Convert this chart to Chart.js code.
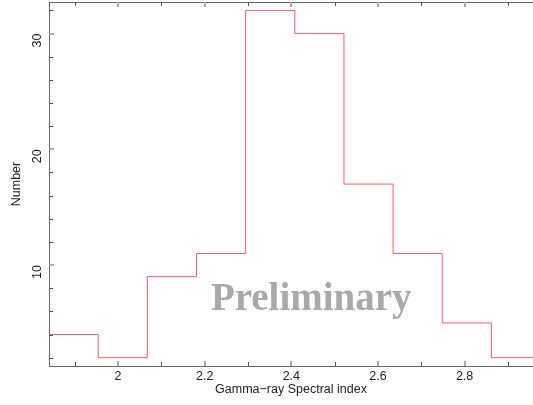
<!DOCTYPE html>
<html>
<head>
<meta charset="utf-8">
<script src="https://cdn.jsdelivr.net/npm/chart.js@4/dist/chart.umd.min.js"></script>
<style>
  html, body { margin: 0; padding: 0; background: #fff; }
  #wrap { width: 533px; height: 405px; position: relative; }
</style>
</head>
<body>
<div id="wrap"><canvas id="c"></canvas></div>
<script>
// Histogram bin edges (left edges of each bin, plus final right edge)
const binEdges = [1.8405, 1.954, 2.0675, 2.181, 2.2945, 2.408, 2.5215, 2.635, 2.7485, 2.862, 2.9755];
// Counts per bin
const counts = [4, 2, 9, 11, 32, 30, 17, 11, 5, 2];
// Tick values
const xMajorTicks = [2, 2.2, 2.4, 2.6, 2.8];
const xMinorTicks = [1.9, 2.1, 2.3, 2.5, 2.7, 2.9];
const yMajorTicks = [10, 20, 30];
const yMinorTicks = [2, 4, 6, 8, 12, 14, 16, 18, 22, 24, 26, 28, 32];
const xTitle = 'Gamma\u2212ray Spectral index';
const yTitle = 'Number';
const watermark = 'Preliminary';

const stepPoints = counts.map((v, i) => ({ x: binEdges[i], y: v }));
stepPoints.push({ x: binEdges[binEdges.length - 1], y: counts[counts.length - 1] });

const axisColor = '#666666';
const textFont = { family: '"Liberation Sans", Arial, sans-serif', size: 12.5 };

const framePlugin = {
  id: 'frame',
  afterDraw(chart) {
    const { ctx, chartArea: a, scales: { x, y } } = chart;
    ctx.save();
    // top border
    ctx.strokeStyle = axisColor;
    ctx.lineWidth = 1;
    ctx.beginPath();
    ctx.moveTo(a.left, a.top + 0.5);
    ctx.lineTo(a.right, a.top + 0.5);
    ctx.stroke();
    const drawX = (vals, len, color, w) => {
      ctx.strokeStyle = color; ctx.lineWidth = w;
      vals.forEach(v => {
        const px = Math.round(x.getPixelForValue(v)) + (w % 2 ? 0.5 : 0);
        ctx.beginPath(); ctx.moveTo(px, a.bottom); ctx.lineTo(px, a.bottom - len); ctx.stroke();
        ctx.beginPath(); ctx.moveTo(px, a.top); ctx.lineTo(px, a.top + len); ctx.stroke();
      });
    };
    const drawY = (vals, len, color, w) => {
      ctx.strokeStyle = color; ctx.lineWidth = w;
      vals.forEach(v => {
        const py = Math.round(y.getPixelForValue(v)) + (w % 2 ? 0.5 : 0);
        ctx.beginPath(); ctx.moveTo(a.left, py); ctx.lineTo(a.left + len, py); ctx.stroke();
      });
    };
    drawX(xMinorTicks, 4, '#555555', 1);
    drawX(xMajorTicks, 5, '#aaaaaa', 2);
    drawY(yMinorTicks, 4, '#555555', 1);
    drawY(yMajorTicks, 5, '#aaaaaa', 2);
    // watermark
    ctx.fillStyle = '#a9a9a9';
    ctx.font = 'bold 39px "Liberation Serif", "Times New Roman", serif';
    ctx.textAlign = 'center';
    ctx.textBaseline = 'alphabetic';
    ctx.fillText(watermark, x.getPixelForValue(2.446), y.getPixelForValue(6.15));
    ctx.restore();
  }
};

new Chart(document.getElementById('c'), {
  type: 'line',
  data: {
    datasets: [{
      data: stepPoints,
      stepped: 'before',
      borderColor: '#ff6060',
      borderWidth: 1,
      pointRadius: 0,
      fill: false,
      clip: false
    }]
  },
  options: {
    responsive: true,
    maintainAspectRatio: false,
    animation: false,
    events: [],
    layout: { padding: { top: 2, right: 0, left: 0, bottom: 0 } },
    plugins: { legend: { display: false }, tooltip: { enabled: false } },
    scales: {
      x: {
        type: 'linear',
        min: 1.8405,
        max: 2.958,
        afterBuildTicks: s => { s.ticks = xMajorTicks.map(v => ({ value: v })); },
        afterFit: s => { s.height = 39; s.paddingLeft = 0; s.paddingRight = 0; },
        grid: { display: false, drawTicks: false },
        border: { display: true, color: axisColor, width: 1 },
        ticks: {
          color: '#222',
          padding: 3,
          maxRotation: 0,
          autoSkip: false,
          font: textFont,
          callback: v => String(v)
        },
        title: {
          display: true,
          text: xTitle,
          color: '#222',
          padding: { top: 0, bottom: 8 },
          font: textFont
        }
      },
      y: {
        type: 'linear',
        min: 1.28,
        max: 32.73,
        afterBuildTicks: s => { s.ticks = yMajorTicks.map(v => ({ value: v })); },
        afterFit: s => { s.width = 49; s.paddingTop = 0; s.paddingBottom = 0; },
        grid: { display: false, drawTicks: false },
        border: { display: true, color: axisColor, width: 1 },
        ticks: {
          color: '#222',
          padding: 11,
          minRotation: 90,
          maxRotation: 90,
          autoSkip: false,
          font: textFont,
          callback: v => String(v)
        },
        title: {
          display: true,
          text: yTitle,
          color: '#222',
          padding: { top: 9, bottom: 4 },
          font: textFont
        }
      }
    }
  },
  plugins: [framePlugin]
});
</script>
</body>
</html>
